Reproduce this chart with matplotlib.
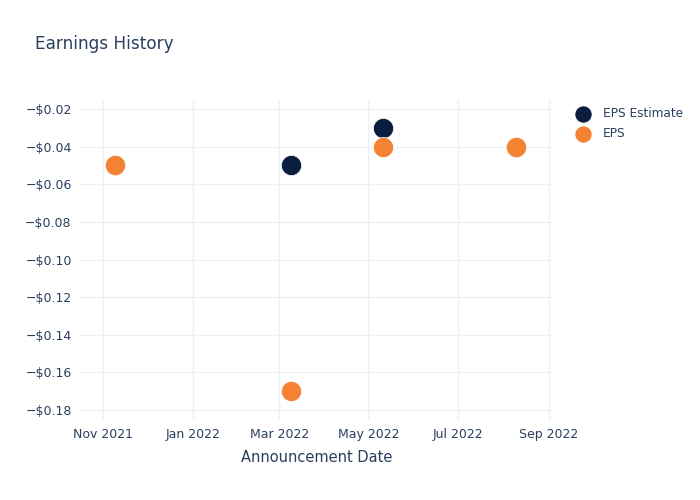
import matplotlib
matplotlib.use("Agg")
import matplotlib.pyplot as plt
import matplotlib.dates as mdates
import numpy as np
from datetime import datetime

# Data
dates = ["2021-11-09", "2022-03-09", "2022-05-11", "2022-08-10"]
eps_estimate = [-0.05, -0.05, -0.03, -0.04]
eps_actual = [-0.05, -0.17, -0.04, -0.04]
x_ticks = ["2021-11-01", "2022-01-01", "2022-03-01", "2022-05-01", "2022-07-01", "2022-09-01"]
y_ticks = [-0.02, -0.04, -0.06, -0.08, -0.10, -0.12, -0.14, -0.16, -0.18]

dt = [datetime.strptime(d, "%Y-%m-%d") for d in dates]
xt = [datetime.strptime(d, "%Y-%m-%d") for d in x_ticks]

text_col = "#2a3f5f"
grid_col = "#ebf0f8"
navy = "#0c1e3f"
orange = "#f58233"

fig = plt.figure(figsize=(7, 5), dpi=100)
ax = fig.add_axes([80 / 700, 80 / 500, 473 / 700, 320 / 500])

ax.scatter(dt, eps_estimate, s=210, color=navy, edgecolor="white", linewidth=0.5, zorder=3, label="EPS Estimate")
ax.scatter(dt, eps_actual, s=210, color=orange, edgecolor="white", linewidth=0.5, zorder=4, label="EPS")

ax.set_xlim(datetime(2021, 10, 16), datetime(2022, 9, 4))
ax.set_ylim(-0.1853, -0.0152)
ax.set_xticks(xt)
ax.xaxis.set_major_formatter(mdates.DateFormatter("%b %Y"))
ax.set_yticks(y_ticks)
ax.set_yticklabels(["\u2212$%.2f" % abs(v) for v in y_ticks])

ax.grid(True, color=grid_col, linewidth=1)
ax.set_axisbelow(True)
for s in ax.spines.values():
    s.set_visible(False)
ax.tick_params(length=0, colors=text_col, labelsize=9, pad=6)

ax.set_xlabel("Announcement Date", color=text_col, fontsize=10.5, labelpad=6)
fig.text(35 / 700, 1 - 44 / 500, "Earnings History", color=text_col, fontsize=12.2, va="center")

leg = ax.legend(loc="upper left", bbox_to_anchor=(1.027, 0.992), frameon=False,
                fontsize=8.7, labelcolor=text_col, handletextpad=0.65, borderaxespad=0,
                labelspacing=0.55, markerscale=0.85)

fig.savefig("out.png", dpi=100)
